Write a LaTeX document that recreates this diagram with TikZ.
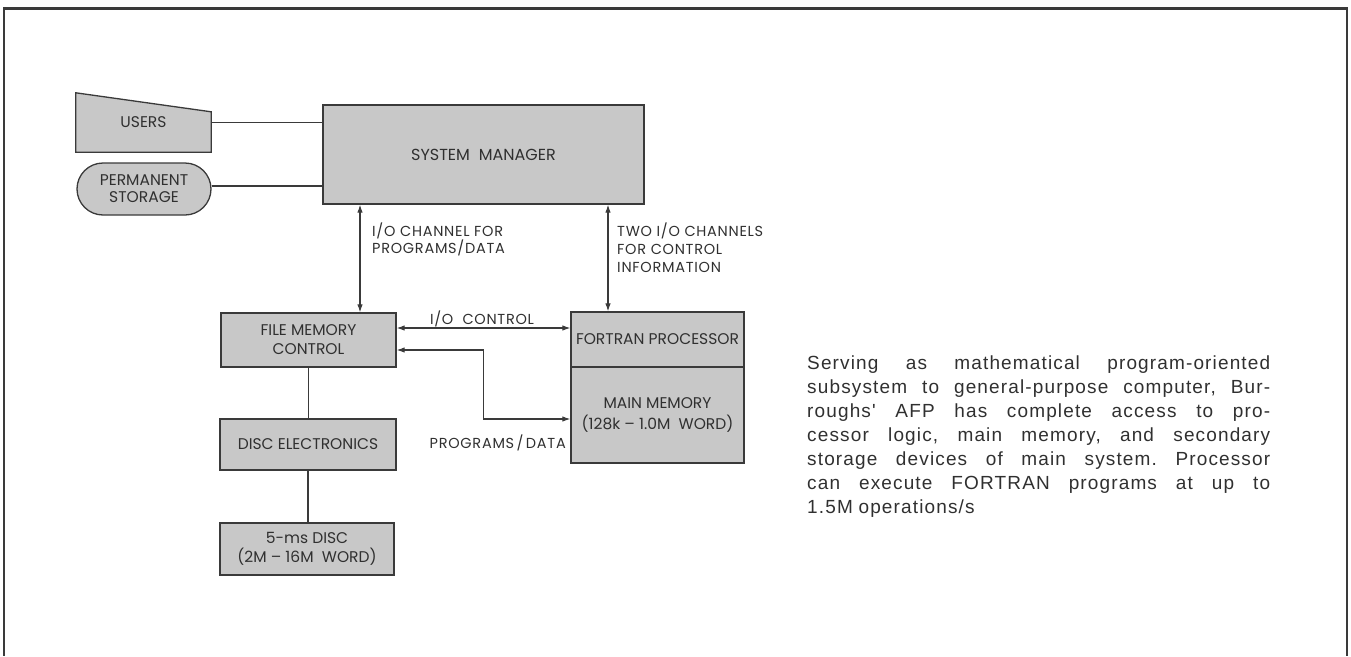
\documentclass[tikz,border=0pt]{standalone}
\usepackage{fontspec}
\setmainfont{Liberation Sans}
\newfontfamily\geofont{Poppins}
\newfontfamily\geotrackfont[LetterSpace=5]{Poppins}
\newfontfamily\capfont[LetterSpace=6]{Liberation Sans}
\usetikzlibrary{arrows.meta, positioning, calc, backgrounds}

\definecolor{boxfill}{HTML}{C8C8C8}
\definecolor{edge}{HTML}{3A3A3A}
\definecolor{ink}{HTML}{303030}

\newcommand\boxlabelfont{\geofont\fontsize{15.5}{19}\selectfont}
\newcommand\sidelabelfont{\geotrackfont\fontsize{14.5}{15}\selectfont}

\tikzset{
  unit/.style={draw=edge, fill=boxfill, line width=1.3pt, inner sep=0pt,
               align=center, font=\boxlabelfont, text=ink},
  link/.style={draw=edge, line width=1.1pt},
  duplex/.style={link, {Latex[length=8pt,width=5.5pt]}-{Latex[length=8pt,width=5.5pt]}},
  note/.style={font=\sidelabelfont, text=ink, align=left, inner sep=0pt},
}

\begin{document}
\begin{tikzpicture}[x=1pt, y=-1pt]

\useasboundingbox (0,0) rectangle (1351,656);

% ---------------------------------------------------------------- frame
\draw[edge, line width=3pt] (3,8) -- (1348,8);
\draw[edge, line width=1.6pt] (4,8) -- (4,656);
\draw[edge, line width=1.6pt] (1347,8) -- (1347,656);

% ---------------------------------------------------------------- outside world
\node[minimum width=135pt, minimum height=61pt, inner sep=0pt,
      font=\boxlabelfont, text=ink] (users) at (143.5,122.5) {USERS};
\begin{scope}[on background layer]
  \filldraw[unit] ([yshift=1pt]users.south west) -- ([yshift=-1pt]users.north west)
      -- ([yshift=-20pt]users.north east) -- ([yshift=1pt]users.south east) -- cycle;
\end{scope}

\node[unit, rounded corners=26pt, minimum width=134pt, minimum height=52pt,
      font=\geofont\fontsize{15.5}{17}\selectfont] (perm) at (144,189)
    {PERMANENT\\STORAGE};

\node[unit, minimum width=321pt, minimum height=99pt,
      font=\geofont\fontsize{16}{18}\selectfont] (sysmgr) at (483.5,154.5)
    {SYSTEM\hspace{9pt}MANAGER};

% ---------------------------------------------------------------- file side
\node[unit, minimum width=175pt, minimum height=54pt] (fmc) at (308.5,340)
    {FILE MEMORY\\CONTROL};
\node[unit, minimum width=176pt, minimum height=51pt] (de) at (308,444.5)
    {DISC ELECTRONICS};
\node[unit, minimum width=174pt, minimum height=52pt] (disc) at (307,549)
    {5-ms DISC\\(2M – 16M\ \ WORD)};

% ---------------------------------------------------------------- processor side
\node[unit, minimum width=173pt, minimum height=55pt] (fp) at (657.5,339.5)
    {FORTRAN PROCESSOR};
\node[unit, minimum width=173pt, minimum height=96pt] (mm) at (657.5,415)
    {MAIN MEMORY\\[2pt](128k – 1.0M\ \ WORD)};

% ---------------------------------------------------------------- connectors
\coordinate (chanA) at (360,0);
\coordinate (chanB) at (608,0);

\draw[link] (users.east) -- (users.east -| sysmgr.west);
\draw[link] ([yshift=3pt]perm.east) -- ([yshift=3pt]perm.east -| sysmgr.west);

\draw[duplex] (sysmgr.south -| chanA) -- (fmc.north -| chanA);
\draw[duplex] (sysmgr.south -| chanB) -- (fp.north -| chanB);

\draw[duplex] ([yshift=12pt]fmc.east) -- ([yshift=12pt]fmc.east -| fp.west);
\draw[duplex] ([yshift=-10pt]fmc.east) -- ++(87,0) |- ([yshift=-4pt]mm.west);

\draw[link] (fmc.south) -- (fmc.south |- de.north);
\draw[link] (de.south) -- (de.south |- disc.north);

% ---------------------------------------------------------------- labels
\node[note, anchor=north west] (chanAtext) at (372,223)
    {I/O CHANNEL FOR\\PROGRAMS/DATA};
\node[note, anchor=north west, font=\geotrackfont\fontsize{14.5}{18}\selectfont]
    (chanBtext) at (617,223)
    {TWO I/O CHANNELS\\FOR CONTROL\\INFORMATION};
\node[note] (ioctltext) at (482,319) {I/O\ \ CONTROL};
\node[note, anchor=east] (progtext) at (566,443) {PROGRAMS\,/\,DATA};

% ---------------------------------------------------------------- caption
\node[anchor=north west, inner sep=0pt, text width=463pt, align=justify,
      text=ink, font=\capfont\fontsize{19}{24}\selectfont] (caption) at (807,356) {%
  \hyphenpenalty=10000 \exhyphenpenalty=10000 \frenchspacing
  \spaceskip=0.3em plus 3em minus 0.05em\relax
  Serving as mathematical program-oriented\linebreak
  subsystem to general-purpose computer, Bur-\linebreak
  roughs' AFP has complete access to pro-\linebreak
  cessor logic, main memory, and secondary\linebreak
  storage devices of main system. Processor\linebreak
  can execute FORTRAN programs at up to\linebreak
  1.5M operations/s};

\end{tikzpicture}
\end{document}
